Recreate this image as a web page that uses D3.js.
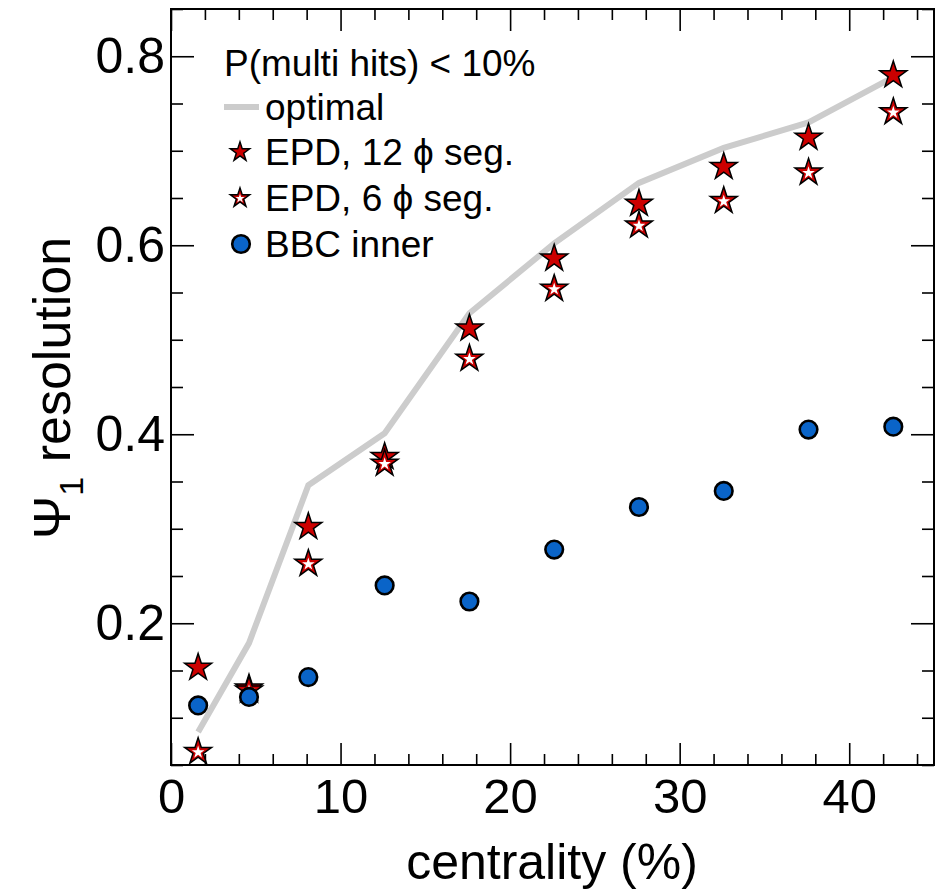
<!DOCTYPE html>
<html>
<head>
<meta charset="utf-8">
<script src="https://cdn.jsdelivr.net/npm/d3@7"></script>
<style>
    body { margin: 0; background: #fff; }
    svg text { font-family: "Liberation Sans", Arial, Helvetica, sans-serif; fill: #000; }
    .axis path { display: none; }
    .axis line { stroke: #000; stroke-width: 1.6; }
</style>
</head>
<body>
<div id="chart"></div>
<script>
// centrality bin positions (%)
const centrality = [1.6, 4.6, 8.1, 12.6, 17.6, 22.6, 27.6, 32.6, 37.6, 42.6];
// Psi_1 resolution values
const optimal = [0.085, 0.179, 0.346, 0.401, 0.528, 0.602, 0.666, 0.703, 0.730, 0.778];
const epd12 = [0.153, 0.131, 0.302, 0.376, 0.512, 0.586, 0.644, 0.683, 0.714, 0.780];
const epd6 = [0.064, 0.129, 0.263, 0.369, 0.480, 0.554, 0.621, 0.647, 0.677, 0.741];
const bbcInner = [0.113, 0.122, 0.143, 0.240, 0.223, 0.278, 0.323, 0.340, 0.405, 0.408];
const xTicks = [0, 10, 20, 30, 40];
const yTicks = [0.2, 0.4, 0.6, 0.8];
const legendTitle = "P(multi hits) < 10%";
const legendLabels = ["optimal", "EPD, 12 \u03D5 seg.", "EPD, 6 \u03D5 seg.", "BBC inner"];

function renderChart() {
    const width = 951;
    const height = 894;
    const left = 171, right = 934, top = 9, bottom = 765;

    const svg = d3.select("#chart").append("svg")
        .attr("width", width)
        .attr("height", height);

    const xScale = d3.scaleLinear().domain([0, 45]).range([left, right]);
    const yScale = d3.scaleLinear().domain([0.05, 0.85]).range([bottom, top]);

    const xMinor = d3.range(0, 45.01, 2).filter(function (d) { return d % 10 !== 0; });
    const yMinor = d3.range(0.05, 0.851, 0.05).map(function (d) { return +d.toFixed(2); })
        .filter(function (d) { return Math.abs(d / 0.2 - Math.round(d / 0.2)) > 1e-6; });

    // axes: ticks on all four sides, labels bottom and left
    svg.append("g").attr("class", "axis")
        .attr("transform", `translate(0, ${bottom})`)
        .call(d3.axisBottom(xScale).tickValues(xTicks).tickSize(-22).tickPadding(13).tickFormat(d3.format("d")))
        .call(function (g) { g.selectAll("text").attr("font-size", 49); });
    svg.append("g").attr("class", "axis")
        .attr("transform", `translate(0, ${bottom})`)
        .call(d3.axisBottom(xScale).tickValues(xMinor).tickSize(-11).tickFormat(""));
    svg.append("g").attr("class", "axis")
        .attr("transform", `translate(0, ${top})`)
        .call(d3.axisTop(xScale).tickValues(xTicks).tickSize(-22).tickFormat(""));
    svg.append("g").attr("class", "axis")
        .attr("transform", `translate(0, ${top})`)
        .call(d3.axisTop(xScale).tickValues(xMinor).tickSize(-11).tickFormat(""));

    svg.append("g").attr("class", "axis")
        .attr("transform", `translate(${left}, 0)`)
        .call(d3.axisLeft(yScale).tickValues(yTicks).tickSize(-23).tickPadding(6).tickFormat(d3.format(".1f")))
        .call(function (g) { g.selectAll("text").attr("font-size", 50); });
    svg.append("g").attr("class", "axis")
        .attr("transform", `translate(${left}, 0)`)
        .call(d3.axisLeft(yScale).tickValues(yMinor).tickSize(-12).tickFormat(""));
    svg.append("g").attr("class", "axis")
        .attr("transform", `translate(${right}, 0)`)
        .call(d3.axisRight(yScale).tickValues(yTicks).tickSize(-23).tickFormat(""));
    svg.append("g").attr("class", "axis")
        .attr("transform", `translate(${right}, 0)`)
        .call(d3.axisRight(yScale).tickValues(yMinor).tickSize(-12).tickFormat(""));

    // frame
    svg.append("rect")
        .attr("x", left).attr("y", top)
        .attr("width", right - left).attr("height", bottom - top)
        .attr("fill", "none").attr("stroke", "#000").attr("stroke-width", 2);

    // axis titles
    svg.append("text")
        .attr("transform", `translate(552, 879)`)
        .attr("text-anchor", "middle")
        .attr("font-size", 50)
        .text("centrality (%)");

    const yTitle = svg.append("text")
        .attr("transform", `translate(70, 388) rotate(-90)`)
        .attr("text-anchor", "middle")
        .attr("font-size", 52);
    yTitle.append("tspan").text("\u03A8");
    yTitle.append("tspan").attr("font-size", 34).attr("dy", 13).text("1");
    yTitle.append("tspan").attr("dy", -13).text(" resolution");

    // optimal line
    const lineData = centrality.map(function (c, i) { return [c, optimal[i]]; });
    svg.append("path")
        .datum(lineData)
        .attr("fill", "none")
        .attr("stroke", "#cccccc")
        .attr("stroke-width", 6)
        .attr("d", d3.line()
            .x(function (d) { return xScale(d[0]); })
            .y(function (d) { return yScale(d[1]); }));

    const starBig = d3.symbol(d3.symbolStar, 225);
    const starInner = d3.symbol(d3.symbolStar, 50);
    const starSmall = d3.symbol(d3.symbolStar, 115);
    const starSmallInner = d3.symbol(d3.symbolStar, 26);

    function filledStar(g, x, y, sym) {
        g.append("path")
            .attr("d", sym)
            .attr("transform", `translate(${x}, ${y})`)
            .attr("fill", "#cc0000")
            .attr("stroke", "#000")
            .attr("stroke-width", 1.5)
            .attr("stroke-linejoin", "miter");
    }
    function openStar(g, x, y, sym, inner) {
        filledStar(g, x, y, sym);
        g.append("path")
            .attr("d", inner)
            .attr("transform", `translate(${x}, ${y + 0.5})`)
            .attr("fill", "#fff");
    }
    function dot(g, x, y) {
        g.append("circle")
            .attr("cx", x).attr("cy", y).attr("r", 8.8)
            .attr("fill", "#0a64c8")
            .attr("stroke", "#000")
            .attr("stroke-width", 2.6);
    }

    const marks = svg.append("g");
    centrality.forEach(function (c, i) { filledStar(marks, xScale(c), yScale(epd12[i]), starBig); });
    centrality.forEach(function (c, i) { openStar(marks, xScale(c), yScale(epd6[i]), starBig, starInner); });
    centrality.forEach(function (c, i) { dot(marks, xScale(c), yScale(bbcInner[i])); });

    // legend
    const legend = svg.append("g");
    legend.append("text")
        .attr("x", 224).attr("y", 76)
        .attr("font-size", 37)
        .text(legendTitle);
    const rowY = [107, 152, 198, 244];
    legend.append("line")
        .attr("x1", 224).attr("x2", 259)
        .attr("y1", rowY[0]).attr("y2", rowY[0])
        .attr("stroke", "#cccccc").attr("stroke-width", 6);
    filledStar(legend, 240, rowY[1], starSmall);
    openStar(legend, 240, rowY[2], starSmall, starSmallInner);
    dot(legend, 241, rowY[3]);
    legendLabels.forEach(function (label, i) {
        legend.append("text")
            .attr("x", 265).attr("y", rowY[i] + 13)
            .attr("font-size", 37)
            .text(label);
    });
}

renderChart();
</script>
</body>
</html>
